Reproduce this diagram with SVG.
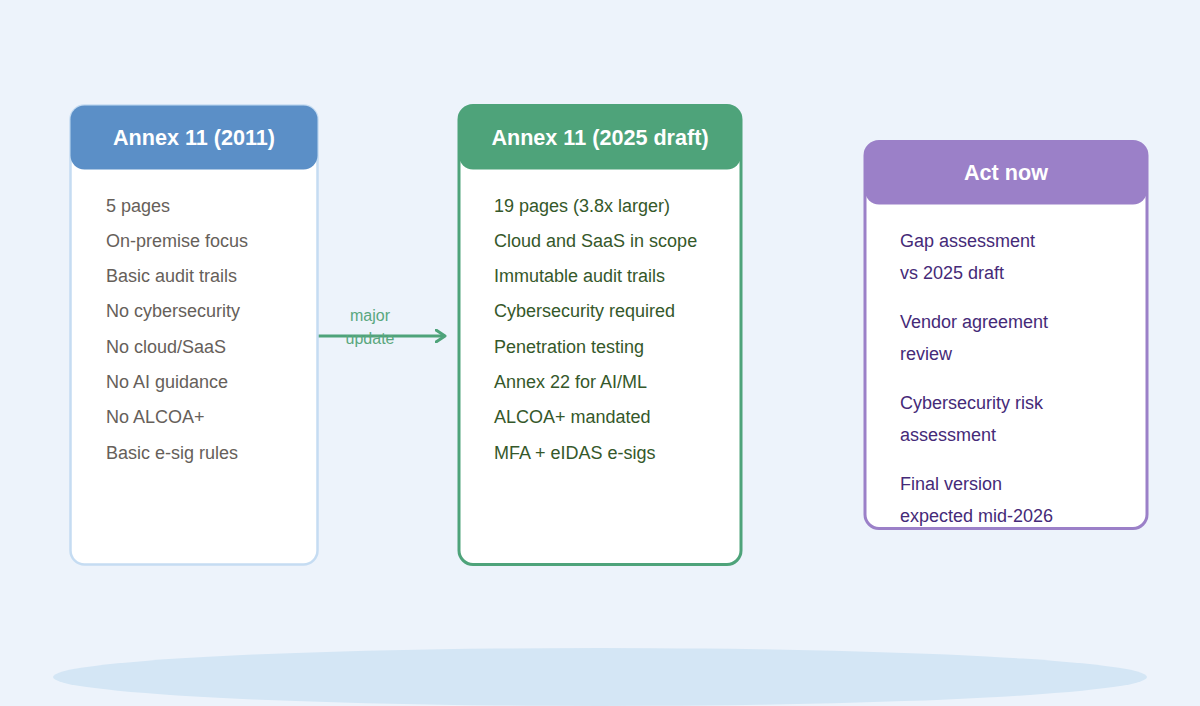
<svg xmlns="http://www.w3.org/2000/svg" width="1200" height="706" viewBox="0 0 1200 706">
<style>
.title{font-family:"Liberation Sans",Arial,sans-serif;font-size:21.6px;font-weight:bold;fill:#ffffff;text-anchor:middle}
.item{font-family:"Liberation Sans",Arial,sans-serif;font-size:18px}
.b1{fill:#66605a}
.b2{fill:#35582a}
.b3{fill:#452a78}
.lbl{font-family:"Liberation Sans",Arial,sans-serif;font-size:16px;fill:#5aa77e;text-anchor:middle}
</style>
<defs>
<marker id="arr" markerWidth="12" markerHeight="14" refX="10" refY="7" orient="auto" markerUnits="userSpaceOnUse">
<path d="M1,1 L10,7 L1,13" fill="none" stroke="#4ea37a" stroke-width="3" stroke-linecap="round" stroke-linejoin="round"/>
</marker>
</defs>
<rect width="1200" height="706" fill="#edf3fb"/>
<ellipse cx="600" cy="677" rx="547" ry="29" fill="#d4e6f5"/>
<g id="connectors">
<line x1="318" y1="336" x2="445" y2="336" stroke="#4ea37a" stroke-width="3" marker-end="url(#arr)"/>
<text class="lbl" x="370" y="321">major</text>
<text class="lbl" x="370" y="344">update</text>
</g>
<g id="annex2011">
<rect x="70.5" y="105.5" width="247" height="459" rx="14" fill="#ffffff" stroke="#c5dcf2" stroke-width="2.5"/>
<rect x="70.5" y="105.5" width="247" height="64" rx="14" fill="#5b8fc7"/>
<text class="title" x="194" y="145">Annex 11 (2011)</text>
<text class="item b1" x="106" y="212">5 pages</text>
<text class="item b1" x="106" y="247">On-premise focus</text>
<text class="item b1" x="106" y="282">Basic audit trails</text>
<text class="item b1" x="106" y="317">No cybersecurity</text>
<text class="item b1" x="106" y="353">No cloud/SaaS</text>
<text class="item b1" x="106" y="388">No AI guidance</text>
<text class="item b1" x="106" y="423">No ALCOA+</text>
<text class="item b1" x="106" y="459">Basic e-sig rules</text>
</g>
<g id="annex2025">
<rect x="459" y="105.5" width="282" height="459" rx="14" fill="#ffffff" stroke="#4ea37a" stroke-width="3"/>
<rect x="459" y="105.5" width="282" height="64" rx="14" fill="#4ea37a"/>
<text class="title" x="600" y="145">Annex 11 (2025 draft)</text>
<text class="item b2" x="494" y="212">19 pages (3.8x larger)</text>
<text class="item b2" x="494" y="247">Cloud and SaaS in scope</text>
<text class="item b2" x="494" y="282">Immutable audit trails</text>
<text class="item b2" x="494" y="317">Cybersecurity required</text>
<text class="item b2" x="494" y="353">Penetration testing</text>
<text class="item b2" x="494" y="388">Annex 22 for AI/ML</text>
<text class="item b2" x="494" y="423">ALCOA+ mandated</text>
<text class="item b2" x="494" y="459">MFA + eIDAS e-sigs</text>
</g>
<g id="actnow">
<rect x="865" y="141.5" width="282" height="387" rx="14" fill="#ffffff" stroke="#9b80c8" stroke-width="3"/>
<rect x="865" y="141.5" width="282" height="63" rx="14" fill="#9b80c8"/>
<text class="title" x="1006" y="180">Act now</text>
<text class="item b3" x="900" y="247">Gap assessment</text>
<text class="item b3" x="900" y="279">vs 2025 draft</text>
<text class="item b3" x="900" y="328">Vendor agreement</text>
<text class="item b3" x="900" y="360">review</text>
<text class="item b3" x="900" y="409">Cybersecurity risk</text>
<text class="item b3" x="900" y="441">assessment</text>
<text class="item b3" x="900" y="490">Final version</text>
<text class="item b3" x="900" y="522">expected mid-2026</text>
</g>
</svg>
